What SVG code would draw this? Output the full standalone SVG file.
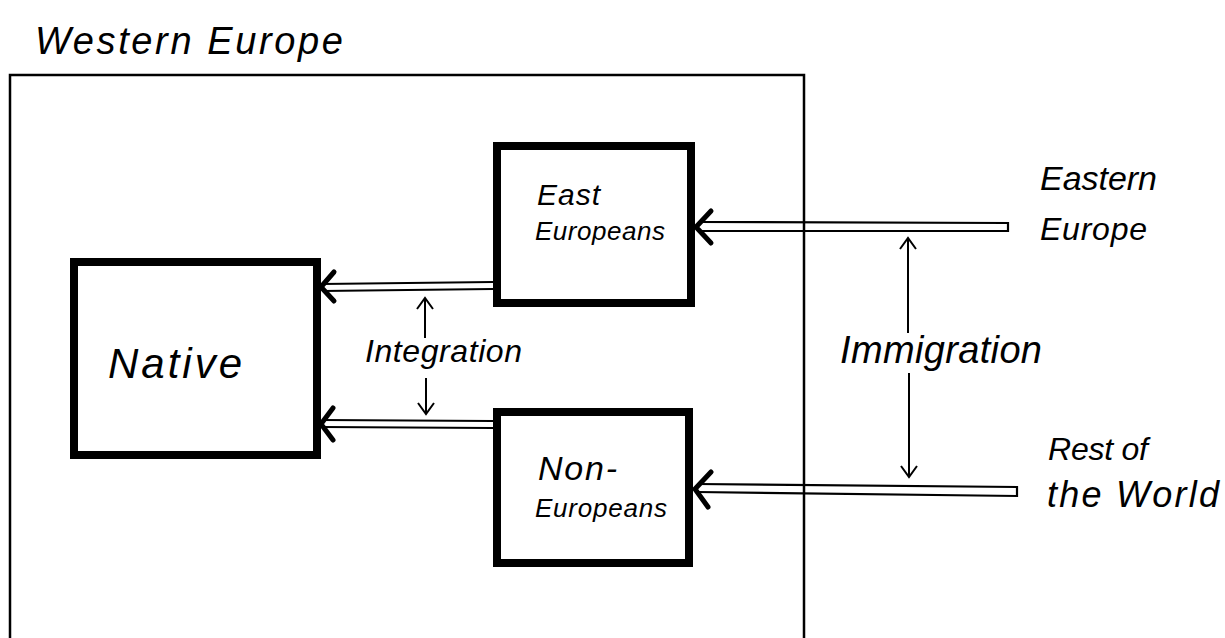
<svg xmlns="http://www.w3.org/2000/svg" xmlns:xlink="http://www.w3.org/1999/xlink" width="1225" height="638" viewBox="0 0 1225 638">
<style>
  .txt { font-family: "Liberation Sans", "DejaVu Sans", sans-serif; font-style: italic; fill: #000; }
  .box { fill: #fff; stroke: #000; stroke-width: 8; stroke-linejoin: miter; }
  .frame { fill: none; stroke: #000; stroke-width: 2.5; }
  .shaft { stroke: #000; stroke-width: 2.2; fill: none; }
  .wing { stroke: #000; stroke-width: 5; fill: none; stroke-linecap: round; stroke-linejoin: round; }
  .thin { stroke: #000; stroke-width: 2; fill: none; }
</style>
<defs>
  <marker id="tip" markerUnits="userSpaceOnUse" markerWidth="24" markerHeight="24" viewBox="-12 -12 24 24" refX="0" refY="0" orient="auto">
    <path d="M-11,-8 L0,0 L-11,8" fill="none" stroke="#000" stroke-width="2"/>
  </marker>
</defs>
<rect width="1225" height="638" fill="#fff"/>

<g id="western-europe">
  <path class="frame" d="M10,638 L10,75 L804,75 L804,638"/>
  <text class="txt" x="35" y="54" font-size="38" textLength="308" lengthAdjust="spacing">Western Europe</text>
</g>

<g id="native">
  <rect class="box" x="74" y="262" width="243" height="193"/>
  <text class="txt" x="108" y="378" font-size="42" textLength="134" lengthAdjust="spacing">Native</text>
</g>

<g id="east-europeans">
  <rect class="box" x="497" y="146" width="194" height="157"/>
  <text class="txt" x="537" y="205" font-size="30" textLength="63" lengthAdjust="spacing">East</text>
  <text class="txt" x="535" y="240" font-size="26" textLength="130" lengthAdjust="spacing">Europeans</text>
</g>

<g id="non-europeans">
  <rect class="box" x="497" y="412" width="192" height="151"/>
  <text class="txt" x="538" y="480" font-size="34" textLength="79" lengthAdjust="spacing">Non-</text>
  <text class="txt" x="535" y="517" font-size="26" textLength="132" lengthAdjust="spacing">Europeans</text>
</g>

<g id="eastern-europe">
  <text class="txt" x="1040" y="190" font-size="34" textLength="117" lengthAdjust="spacing">Eastern</text>
  <text class="txt" x="1040" y="240" font-size="32" textLength="107" lengthAdjust="spacing">Europe</text>
</g>

<g id="rest-of-world">
  <text class="txt" x="1048" y="460" font-size="32" textLength="100" lengthAdjust="spacing">Rest of</text>
  <text class="txt" x="1047" y="507" font-size="36" textLength="172" lengthAdjust="spacing">the World</text>
</g>

<g id="connectors">
  <!-- East Europeans -> Native -->
  <g id="east-to-native">
    <path class="shaft" d="M493,282 L322,284 M493,289 L322,291"/>
    <path class="wing" d="M334,272 L321,287 L334,301"/>
  </g>
  <!-- Non-Europeans -> Native -->
  <g id="non-to-native">
    <path class="shaft" d="M493,421 L322,420 M493,428 L322,427"/>
    <path class="wing" d="M333,408 L321,424 L333,440"/>
  </g>
  <!-- Eastern Europe -> East Europeans -->
  <g id="eastern-to-east">
    <path class="shaft" d="M698,222 L1008,223 L1008,231 L698,231"/>
    <path class="wing" d="M711,211 L696,227 L711,243"/>
  </g>
  <!-- Rest of the World -> Non-Europeans -->
  <g id="rest-to-non">
    <path class="shaft" d="M697,484 L1017,487 L1017,496 L697,492"/>
    <path class="wing" d="M711,472 L695,489 L708,507"/>
  </g>
  <!-- Integration -->
  <g id="integration">
    <line class="thin" x1="425" y1="338" x2="425" y2="298" marker-end="url(#tip)"/>
    <line class="thin" x1="426" y1="378" x2="426" y2="414" marker-end="url(#tip)"/>
    <text class="txt" x="365" y="362" font-size="32" textLength="157" lengthAdjust="spacing">Integration</text>
  </g>
  <!-- Immigration -->
  <g id="immigration">
    <line class="thin" x1="908" y1="333" x2="908" y2="238" marker-end="url(#tip)"/>
    <line class="thin" x1="909" y1="373" x2="909" y2="477" marker-end="url(#tip)"/>
    <text class="txt" x="840" y="363" font-size="38" textLength="202" lengthAdjust="spacing">Immigration</text>
  </g>
</g>
</svg>
